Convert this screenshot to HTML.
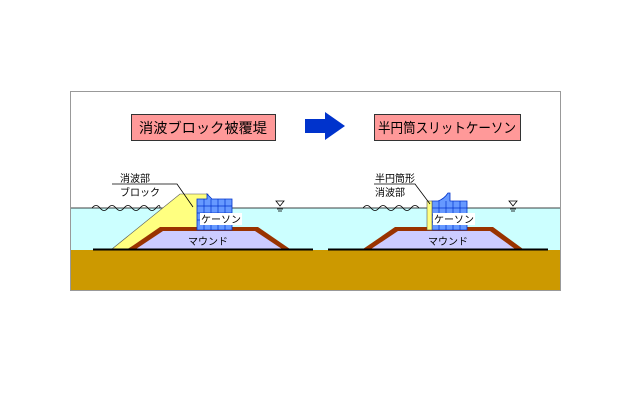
<!DOCTYPE html>
<html><head><meta charset="utf-8"><style>
body{margin:0;background:#fff;}
svg{display:block}
text{font-family:"Liberation Sans","Noto Sans CJK JP",sans-serif;}
</style></head><body>
<svg width="630" height="420" viewBox="0 0 630 420" xmlns="http://www.w3.org/2000/svg">
<rect x="70.5" y="91.5" width="490" height="199" fill="#fff" stroke="#999"/>
<rect x="71" y="208" width="489" height="42" fill="#ccffff"/>
<rect x="71" y="250" width="489" height="40" fill="#cc9900"/>
<line x1="71" y1="208" x2="560" y2="208" stroke="#000" stroke-width="0.8"/>
<rect x="131.5" y="114.5" width="144" height="26" fill="#ff9999" stroke="#333"/>
<text x="139" y="133" font-size="14" textLength="128" lengthAdjust="spacingAndGlyphs" fill="#000">消波ブロック被覆堤</text>
<rect x="374.5" y="114.5" width="146" height="26" fill="#ff9999" stroke="#333"/>
<text x="378" y="133" font-size="14" textLength="138" lengthAdjust="spacingAndGlyphs" fill="#000">半円筒スリットケーソン</text>
<polygon points="305,119 325,119 325,112 345,126 325,140 325,133 305,133" fill="#0033cc"/>
<polygon points="112,249 180,194 208,194 208,230 160,230 128,249" fill="#ffff80" stroke="#555" stroke-width="0.6"/>
<polygon points="128,249 160,227 258,227 290,249" fill="#993300"/>
<polygon points="136,249 163,231 255,231 282,249" fill="#ccccff"/>
<polygon points="197,199 207,199 207,194 212,199 232,199 232,230 197,230" fill="#6699ff" stroke="#0033cc" stroke-width="0.8"/>
<g stroke="#0033cc" stroke-width="0.7">
<line x1="204" y1="199" x2="204" y2="230"/><line x1="211" y1="199" x2="211" y2="230"/><line x1="218" y1="199" x2="218" y2="230"/><line x1="225" y1="199" x2="225" y2="230"/>
<line x1="197" y1="206" x2="232" y2="206"/><line x1="197" y1="213" x2="232" y2="213"/><line x1="197" y1="220" x2="232" y2="220"/>
</g>
<rect x="200" y="213" width="42" height="12" fill="#fff"/>
<text x="201" y="223" font-size="10">ケーソン</text>
<text x="188" y="245" font-size="10" fill="#000">マウンド</text>
<line x1="93" y1="249.5" x2="313" y2="249.5" stroke="#000" stroke-width="2"/>
<path d="M92,208 q4,-5 8,0 t8,0 t8,0 t8,0 t8,0 t8,0 t8,0 t8,0 t4,0" fill="none" stroke="#000" stroke-width="0.8"/>
<text x="120" y="182" font-size="10">消波部</text>
<text x="120" y="196" font-size="10">ブロック</text>
<polyline points="112,184 177,184 193,207" fill="none" stroke="#000" stroke-width="0.8"/>
<polygon points="276,201 284,201 280,206" fill="none" stroke="#000" stroke-width="0.8"/>
<line x1="277" y1="209" x2="283" y2="209" stroke="#000" stroke-width="0.8"/><line x1="278" y1="211" x2="282" y2="211" stroke="#000" stroke-width="0.8"/>
<polygon points="363,249 395,227 493,227 523,249" fill="#993300"/>
<polygon points="371,249 398,231 490,231 515,249" fill="#ccccff"/>
<path d="M432,201 L438,201 Q444,199 448,193 L450,193 L450,201 L467,201 L467,230 L432,230 Z" fill="#6699ff" stroke="#0033cc" stroke-width="0.8"/>
<g stroke="#0033cc" stroke-width="0.7">
<line x1="439" y1="201" x2="439" y2="230"/><line x1="446" y1="201" x2="446" y2="230"/><line x1="453" y1="201" x2="453" y2="230"/><line x1="460" y1="201" x2="460" y2="230"/>
<line x1="432" y1="208" x2="467" y2="208"/><line x1="432" y1="215" x2="467" y2="215"/><line x1="432" y1="222" x2="467" y2="222"/>
</g>
<rect x="427" y="201" width="5" height="29" fill="#ffff80" stroke="#555" stroke-width="0.6"/>
<rect x="433" y="213" width="42" height="12" fill="#fff"/>
<text x="434" y="223" font-size="10">ケーソン</text>
<text x="428" y="245" font-size="10">マウンド</text>
<line x1="328" y1="249.5" x2="548" y2="249.5" stroke="#000" stroke-width="2"/>
<path d="M363,208 q4,-5 8,0 t8,0 t8,0 t8,0 t8,0 t8,0 t8,0" fill="none" stroke="#000" stroke-width="0.8"/>
<text x="375" y="182" font-size="10">半円筒形</text>
<text x="375" y="196" font-size="10">消波部</text>
<polyline points="374,184 415,184 430,204" fill="none" stroke="#000" stroke-width="0.8"/>
<polygon points="509,201 517,201 513,206" fill="none" stroke="#000" stroke-width="0.8"/>
<line x1="510" y1="209" x2="516" y2="209" stroke="#000" stroke-width="0.8"/><line x1="511" y1="211" x2="515" y2="211" stroke="#000" stroke-width="0.8"/>
</svg>
</body></html>
